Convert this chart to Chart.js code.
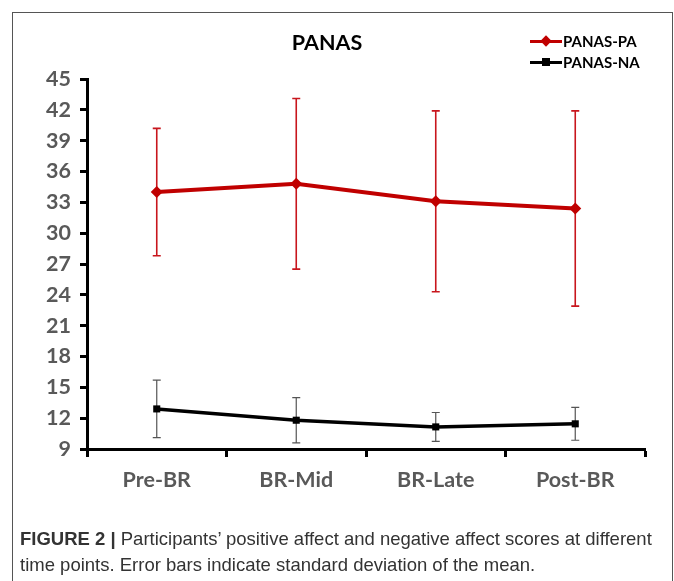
<!DOCTYPE html>
<html><head><meta charset="utf-8">
<script src="https://cdn.jsdelivr.net/npm/chart.js@4.4.1/dist/chart.umd.min.js"></script>
<style>
html,body{margin:0;padding:0;background:#fff;width:674px;height:581px;overflow:hidden;}
#frame{position:absolute;left:12px;top:12px;width:661px;height:600px;border:1px solid #555;box-sizing:border-box;}
#c{position:absolute;left:0;top:0;}
#title{position:absolute;left:0;width:654px;top:29px;text-align:center;font:bold 21.5px Lato,sans-serif;color:#000;}
.leg{position:absolute;left:530px;font:bold 15px Lato,sans-serif;color:#000;height:18px;line-height:18px;}
.leg .ln{position:absolute;left:0;top:8px;width:32px;height:3px;}
.leg .mk{position:absolute;left:12px;top:5px;width:8px;height:8px;}
.leg span{position:absolute;left:33px;top:0;white-space:nowrap;}
#cap{position:absolute;left:20px;top:526px;font:18.5px "Liberation Sans",Arial,sans-serif;color:#333;line-height:26px;width:645px;}
</style></head>
<body>
<div id="frame"></div>
<canvas id="c" width="674" height="581"></canvas>
<div id="title">PANAS</div>
<div class="leg" style="top:32px"><div class="ln" style="background:#C00000"></div><div class="mk" style="background:#C00000;transform:rotate(45deg)"></div><span>PANAS-PA</span></div>
<div class="leg" style="top:53px"><div class="ln" style="background:#000"></div><div class="mk" style="background:#000"></div><span>PANAS-NA</span></div>
<div id="cap"><b>FIGURE 2 |</b> Participants’ positive affect and negative affect scores at different time points. Error bars indicate standard deviation of the mean.</div>
<script>
const categories = ["Pre-BR", "BR-Mid", "BR-Late", "Post-BR"];
const paMean = [34.0, 34.8, 33.1, 32.4];
const paSD   = [6.2, 8.3, 8.8, 9.5];
const naMean = [12.9, 11.8, 11.15, 11.45];
const naSD   = [2.8, 2.2, 1.4, 1.6];
const yTicks = [9, 12, 15, 18, 21, 24, 27, 30, 33, 36, 39, 42, 45];

const errorBars = {
  id: 'errorBars',
  beforeDatasetsDraw(chart) {
    const ctx = chart.ctx;
    const y = chart.scales.y;
    chart.data.datasets.forEach((ds, di) => {
      const meta = chart.getDatasetMeta(di);
      ctx.save();
      ctx.strokeStyle = ds.errColor;
      ctx.lineWidth = ds.errWidth;
      meta.data.forEach((pt, i) => {
        const x = pt.x;
        const top = y.getPixelForValue(ds.data[i] + ds.sd[i]);
        const bot = y.getPixelForValue(ds.data[i] - ds.sd[i]);
        ctx.beginPath();
        ctx.moveTo(x, top); ctx.lineTo(x, bot);
        ctx.moveTo(x - 4, top); ctx.lineTo(x + 4, top);
        ctx.moveTo(x - 4, bot); ctx.lineTo(x + 4, bot);
        ctx.stroke();
      });
      ctx.restore();
    });
  }
};

new Chart(document.getElementById('c'), {
  type: 'line',
  data: {
    labels: categories,
    datasets: [
      { label: 'PANAS-PA', data: paMean, sd: paSD, borderColor: '#C00000', backgroundColor: '#C00000',
        borderWidth: 4, pointStyle: 'rectRot', pointRadius: 6, pointBorderWidth: 0,
        errColor: '#C8161D', errWidth: 1.6, tension: 0 },
      { label: 'PANAS-NA', data: naMean, sd: naSD, borderColor: '#000', backgroundColor: '#000',
        borderWidth: 3.5, pointStyle: 'rect', pointRadius: 5, pointBorderWidth: 0,
        errColor: '#555', errWidth: 1.2, tension: 0 }
    ]
  },
  options: {
    responsive: false, animation: false,
    layout: { padding: { left: 0, right: 29, top: 79, bottom: 81 } },
    plugins: { legend: { display: false }, title: { display: false }, tooltip: { enabled: false } },
    scales: {
      x: {
        offset: true,
        grid: { offset: true, drawOnChartArea: false, drawTicks: true, tickLength: 8, tickColor: '#000', tickWidth: 3 },
        border: { display: true, color: '#000', width: 3 },
        ticks: { color: '#595959', font: { family: 'Lato', weight: 'bold', size: 21.5 }, padding: 10 },
        afterFit(s) { s.height = 51; }
      },
      y: {
        min: 9, max: 45,
        afterBuildTicks(s) { s.ticks = yTicks.map(v => ({ value: v })); },
        grid: { drawOnChartArea: false, drawTicks: true, tickLength: 7, tickColor: '#000', tickWidth: 3 },
        border: { display: true, color: '#000', width: 3 },
        ticks: { color: '#595959', font: { family: 'Lato', weight: 'bold', size: 21.5 }, padding: 9 },
        afterFit(s) { s.width = 87; }
      }
    }
  },
  plugins: [errorBars]
});
</script>
</body></html>
